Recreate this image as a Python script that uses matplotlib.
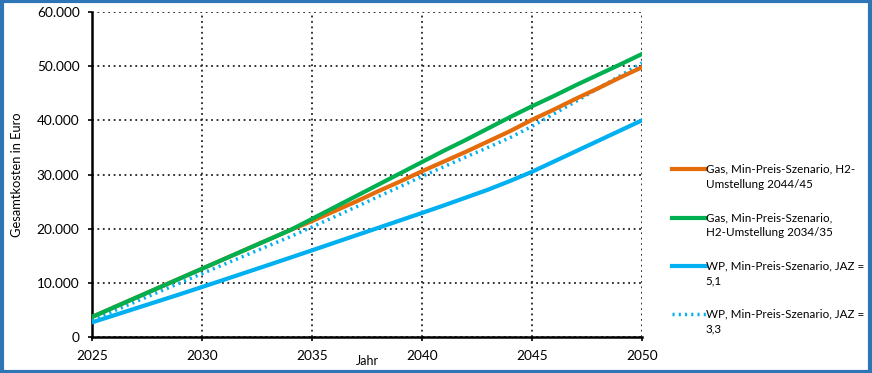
import numpy as np
import matplotlib.pyplot as plt
from matplotlib.patches import Rectangle
from matplotlib.ticker import FuncFormatter
from matplotlib.legend_handler import HandlerLine2D

plt.rcParams['font.family'] = ['Lato', 'DejaVu Sans']

years = np.arange(2025, 2051)
gas_h2_2044 = [3700, 5480, 7260, 9040, 10820, 12600, 14380, 16160, 17940, 19720,
               21400, 23200, 25000, 26900, 28700, 30600, 32400, 34200, 36100, 38000,
               40100, 42000, 44000, 45900, 47900, 49800]
gas_h2_2034 = [3700, 5480, 7260, 9040, 10820, 12600, 14380, 16160, 17940, 19720,
               21800, 23900, 26000, 28100, 30200, 32300, 34400, 36400, 38500, 40600,
               42600, 44500, 46500, 48400, 50300, 52250]
wp_jaz51 = [2700, 4000, 5300, 6600, 7900, 9230, 10570, 11920, 13270, 14630,
            16000, 17380, 18760, 20140, 21520, 22900, 24300, 25750, 27200, 28800,
            30500, 32400, 34300, 36200, 38100, 40000]
wp_jaz33 = [3100, 4820, 6540, 8260, 9980, 11700, 13400, 15100, 16800, 18500,
            20300, 22150, 24000, 25900, 27750, 29650, 31450, 33250, 35000, 36800,
            38900, 41200, 43500, 45900, 48200, 50600]

labels = ["Gas, Min-Preis-Szenario, H2-\nUmstellung 2044/45",
          "Gas, Min-Preis-Szenario,\nH2-Umstellung 2034/35",
          "WP, Min-Preis-Szenario, JAZ =\n5,1",
          "WP, Min-Preis-Szenario, JAZ =\n3,3"]


class TopLine(HandlerLine2D):
    # put the legend line next to the first text line
    def create_artists(self, legend, orig_handle, xdescent, ydescent, width, height, fontsize, trans):
        arts = super().create_artists(legend, orig_handle, xdescent, ydescent, width, height, fontsize, trans)
        for a in arts:
            a.set_ydata(np.asarray(a.get_ydata()) + 5.8)
        return arts


fig = plt.figure(figsize=(8.72, 3.73), dpi=100)
ax = fig.add_axes([92 / 872, 36 / 373, 550 / 872, 325 / 373])

ax.plot(years, gas_h2_2044, color='#e46c0a', lw=3, label=labels[0], zorder=4)
ax.plot(years, gas_h2_2034, color='#00b050', lw=3, label=labels[1], zorder=5)
ax.plot(years, wp_jaz51, color='#00b0f0', lw=3, label=labels[2], zorder=3)
ax.plot(years, wp_jaz33, color='#00b0f0', lw=2.5, ls=(0, (0.6, 1.2)), label=labels[3], zorder=3)

ax.set_xlim(2025, 2050)
ax.set_ylim(0, 60000)
ax.set_xticks(np.arange(2025, 2051, 5))
ax.set_yticks(np.arange(0, 60001, 10000))
ax.yaxis.set_major_formatter(FuncFormatter(lambda v, p: f"{int(v):,}".replace(",", ".")))
ax.grid(True, color='#222222', ls=(0, (1, 2)), lw=1.3)
ax.set_axisbelow(True)
for s in ['top', 'right']:
    ax.spines[s].set_visible(False)
for s in ['left', 'bottom']:
    ax.spines[s].set_linewidth(1.8)
ax.tick_params(labelsize=9.8, length=3, width=1.2, pad=6)
ax.set_ylabel("Gesamtkosten in Euro", fontsize=9.3, labelpad=10)
ax.set_xlabel("Jahr", fontsize=9, labelpad=-5)

leg = ax.legend(loc='center left', bbox_to_anchor=(1.035, 0.27), frameon=False,
                fontsize=8.4, handlelength=2.9, handletextpad=0.0, labelspacing=1.9,
                handler_map={plt.Line2D: TopLine()})
for t in leg.get_texts():
    t.set_linespacing(1.45)

fig.patches.append(Rectangle((0.002, 0.004), 0.996, 0.992, transform=fig.transFigure,
                             fill=False, edgecolor='#2e75b6', lw=3))

fig.savefig("out.png", dpi=100)
